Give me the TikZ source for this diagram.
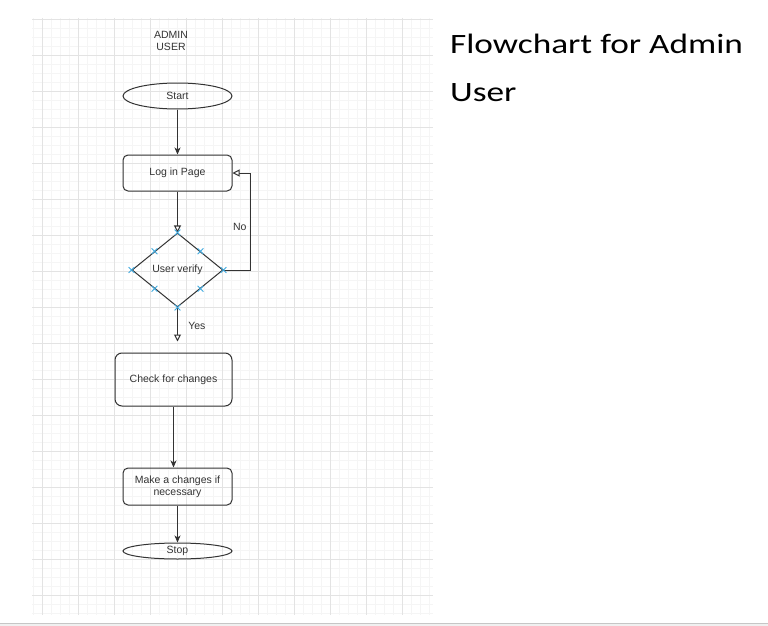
\documentclass[tikz,border=0pt]{standalone}
\usepackage{fontspec}
\setmainfont{Liberation Sans}
\newfontfamily\titlefont[FakeStretch=1.26]{Carlito}
\usetikzlibrary{arrows.meta,calc,positioning,shapes.geometric,shapes.misc}
\definecolor{Ink}{HTML}{333333}
\definecolor{GridMinor}{HTML}{F5F5F5}
\definecolor{GridMajor}{HTML}{E3E3E3}
\definecolor{Hint}{HTML}{3FA9DF}
\definecolor{Strip}{HTML}{F0F0F0}

\begin{document}
\begin{tikzpicture}[x=1pt,y=-1pt,
    every node/.style={font=\fontsize{10.5}{12}\selectfont, text=Ink},
    terminal/.style={draw=Ink, line width=1pt, ellipse, minimum width=109pt, inner sep=0pt},
    process/.style={draw=Ink, line width=1pt, rounded corners=5pt, minimum width=109pt, inner sep=0pt, align=center},
    decision/.style={draw=Ink, line width=1pt, diamond, minimum width=91pt, minimum height=74pt, inner sep=0pt},
    flow/.style={draw=Ink, line width=1pt, -{Stealth[length=7pt,width=6pt,inset=2pt]}},
    openflow/.style={draw=Ink, line width=1pt, -{Triangle[open,length=7pt,width=7pt,fill=white]}},
    hint/.style={cross out, draw=Hint, line width=0.8pt, minimum size=5pt, inner sep=0pt}]
    \useasboundingbox (0,0) rectangle (768,626);
    % grid paper
    \begin{scope}
      \clip (32,18) rectangle (433,615);
      \foreach \k in {0,...,47} \draw[GridMinor, line width=0.6pt] ({6+9*\k},18) -- (6+9*\k,615);
      \foreach \k in {0,...,66} \draw[GridMinor, line width=0.6pt] (32,{19+9*\k}) -- (433,19+9*\k);
      \foreach \k in {0,...,10} \draw[GridMajor, line width=0.8pt] ({42+36*\k},18) -- (42+36*\k,615);
      \foreach \k in {0,...,16} \draw[GridMajor, line width=0.8pt] (32,{19+36*\k}) -- (433,19+36*\k);
    \end{scope}
    \fill[Strip] (0,623) rectangle (768,626);
    \draw[gray!45] (0,623) -- (768,623);

    % flowchart
    \node[align=center] (role) at (171,41) {ADMIN\\USER};
    \node[terminal, minimum height=26pt] (start) at (177.5,96) {Start};
    \node[process, minimum height=36pt] (login) at (177.5,173) {Log in Page};
    \node[decision] (verify) at (177.5,270) {User verify};
    \node[process, minimum width=117pt, minimum height=53pt, rounded corners=7pt] (check) at (173.5,379.5) {Check for changes};
    \node[process, minimum height=37pt] (make) at (177.5,486.5) {Make a changes if\\necessary};
    \node[terminal, minimum height=16pt] (stop) at (177.5,551) {Stop};
    \coordinate (loopcorner) at (250,173);

    \draw[flow] (start) -- (login);
    \draw[openflow] (login) -- (verify);
    \draw[openflow] (verify.east) -| node[pos=0.72, left, inner sep=3pt] {No} (loopcorner) -- (login.east);
    \draw[openflow, shorten >=11pt] (verify.south) -- node[pos=0.4, right, xshift=7pt] {Yes} (verify.south |- check.north);
    \draw[flow] (check.south) -- (check.south |- make.north);
    \draw[flow] (make) -- (stop);

    \foreach \a/\b [count=\i] in {north/north, north/east, east/east, east/south,
                                  south/south, south/west, west/west, west/north}
      \node[hint] (hint\i) at ($(verify.\a)!0.5!(verify.\b)$) {};

    % page text
    \node[anchor=base west, inner sep=0pt, font=\titlefont\fontsize{28}{34}\selectfont, text=black] (title) at (450,53) {Flowchart for Admin};
    \node[anchor=base west, inner sep=0pt, font=\titlefont\fontsize{28}{34}\selectfont, text=black] (titleuser) at (450,101) {User};
\end{tikzpicture}
\end{document}
